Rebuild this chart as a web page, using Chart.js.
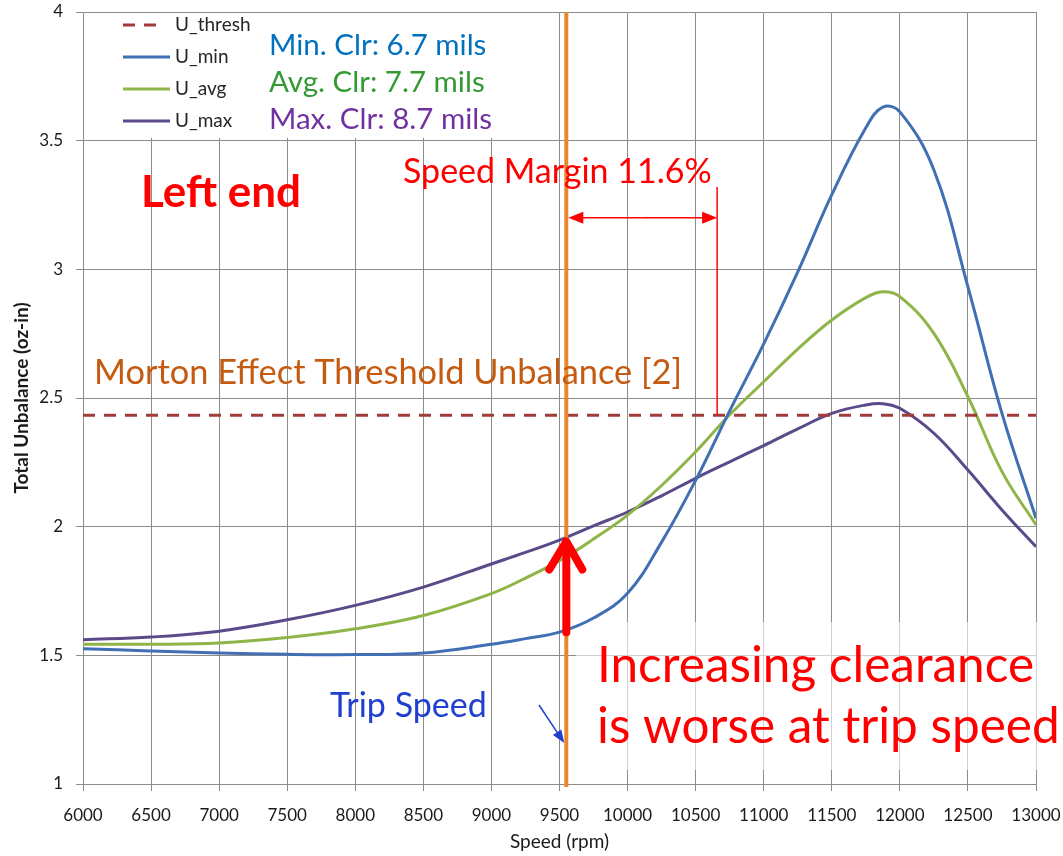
<!DOCTYPE html>
<html>
<head>
<meta charset="utf-8">
<script src="https://cdn.jsdelivr.net/npm/chart.js@4.4.0/dist/chart.umd.min.js"></script>
<style>
  html, body { margin: 0; padding: 0; background: #fff; }
  canvas { display: block; }
</style>
</head>
<body>
<canvas id="grafico" width="1063" height="856"></canvas>
<script>
// Velocidade do rotor (rpm)
const velocidades = [6000, 6500, 7000, 7500, 8000, 8500, 9000, 9250, 9500, 9750, 10000, 10250,
  10500, 10750, 11000, 11250, 11500, 11750, 11875, 12000, 12250, 12500, 12750, 13000];

// Desbalanceamento total (oz-in) para cada folga
const uMin = [1.526, 1.517, 1.509, 1.504, 1.503, 1.509, 1.543, 1.565, 1.59, 1.645, 1.741, 1.94,
  2.18, 2.45, 2.71, 2.99, 3.29, 3.55, 3.63, 3.612, 3.386, 2.932, 2.44, 2.033];
const uAvg = [1.543, 1.543, 1.548, 1.569, 1.603, 1.655, 1.74, 1.80, 1.868, 1.952, 2.045, 2.16,
  2.291, 2.435, 2.563, 2.69, 2.803, 2.89, 2.913, 2.894, 2.751, 2.505, 2.214, 2.007];
const uMax = [1.561, 1.571, 1.594, 1.638, 1.694, 1.765, 1.855, 1.90, 1.948, 2.003, 2.057, 2.12,
  2.188, 2.252, 2.315, 2.38, 2.44, 2.473, 2.478, 2.46, 2.363, 2.22, 2.065, 1.922];

// Limiar do efeito Morton (constante em toda a faixa)
const faixaVel = [6000, 13000];
const uThresh = 2.433;

// Velocidade de trip e margem
const velTrip = 9550;
const margem = 0.116;
const uMinTrip = 1.59;
const uMaxTrip = 1.95;

const nomesSeries = ['U_thresh', 'U_min', 'U_avg', 'U_max'];
const folgas = ['Min. Clr: 6.7 mils', 'Avg. Clr: 7.7 mils', 'Max. Clr: 8.7 mils'];

const pontos = (ys) => velocidades.map((v, i) => ({ x: v, y: ys[i] }));

// Seta simples com ponta cheia
function seta(ctx, x1, y1, x2, y2, comp, larg) {
  const ang = Math.atan2(y2 - y1, x2 - x1);
  ctx.beginPath();
  ctx.moveTo(x1, y1);
  ctx.lineTo(x2 - Math.cos(ang) * comp * 0.8, y2 - Math.sin(ang) * comp * 0.8);
  ctx.stroke();
  ctx.beginPath();
  ctx.moveTo(x2, y2);
  ctx.lineTo(x2 - comp * Math.cos(ang) + larg * Math.sin(ang), y2 - comp * Math.sin(ang) - larg * Math.cos(ang));
  ctx.lineTo(x2 - comp * Math.cos(ang) - larg * Math.sin(ang), y2 - comp * Math.sin(ang) + larg * Math.cos(ang));
  ctx.closePath();
  ctx.fill();
}

const anotacoes = {
  id: 'anotacoes',
  beforeDatasetsDraw(chart) {
    const ctx = chart.ctx;
    const a = chart.chartArea;
    ctx.save();
    // caixas brancas da legenda e das folgas
    ctx.fillStyle = '#fff';
    ctx.fillRect(a.left + 1, a.top + 1, 422, 125);
    // caixa do texto de baixo (semi-transparente)
    ctx.fillStyle = 'rgba(255,255,255,0.6)';
    ctx.fillRect(576, 622, 487, 148);
    ctx.restore();
  },
  afterDatasetsDraw(chart) {
    const ctx = chart.ctx;
    const a = chart.chartArea;
    const xs = chart.scales.x;
    const ys = chart.scales.y;
    const xTrip = xs.getPixelForValue(velTrip);
    const xMargem = xs.getPixelForValue(velTrip * (1 + margem));
    const yLimiar = ys.getPixelForValue(uThresh);

    ctx.save();

    // linha da velocidade de trip
    ctx.strokeStyle = '#E8872E';
    ctx.lineWidth = 4;
    ctx.beginPath();
    ctx.moveTo(xTrip, a.top);
    ctx.lineTo(xTrip, a.bottom + 3);
    ctx.stroke();

    // margem de velocidade
    ctx.strokeStyle = '#FF0000';
    ctx.fillStyle = '#FF0000';
    ctx.lineWidth = 1.5;
    ctx.beginPath();
    ctx.moveTo(xMargem, ys.getPixelForValue(3.32));
    ctx.lineTo(xMargem, yLimiar);
    ctx.stroke();
    const yFlecha = ys.getPixelForValue(3.2);
    seta(ctx, (xTrip + xMargem) / 2, yFlecha, xTrip + 2, yFlecha, 15, 6);
    seta(ctx, (xTrip + xMargem) / 2, yFlecha, xMargem, yFlecha, 15, 6);

    // seta grossa vermelha entre U_min e U_max na trip
    const yBase = ys.getPixelForValue(uMinTrip);
    const yTopo = ys.getPixelForValue(uMaxTrip);
    ctx.lineWidth = 8;
    ctx.lineCap = 'round';
    ctx.lineJoin = 'round';
    ctx.beginPath();
    ctx.moveTo(xTrip, yBase);
    ctx.lineTo(xTrip, yTopo + 3);
    ctx.stroke();
    ctx.beginPath();
    ctx.moveTo(xTrip - 17, yTopo + 30);
    ctx.lineTo(xTrip, yTopo + 2);
    ctx.lineTo(xTrip + 16, yTopo + 30);
    ctx.stroke();
    ctx.lineCap = 'butt';

    // indicador azul da trip
    ctx.strokeStyle = '#1F3FCF';
    ctx.fillStyle = '#1F3FCF';
    ctx.lineWidth = 1.5;
    seta(ctx, 539, 705, xTrip - 2, 743, 13, 5);

    // textos
    ctx.textBaseline = 'alphabetic';
    ctx.textAlign = 'left';
    const coresFolga = ['#0070C0', '#339A33', '#7030A0'];
    ctx.font = '29.5px Lato';
    folgas.forEach((t, i) => {
      ctx.fillStyle = coresFolga[i];
      ctx.fillText(t, 269, 55 + i * 37);
    });

    ctx.fillStyle = '#FF0000';
    ctx.font = 'bold 44px Lato';
    ctx.fillText('Left end', 141, 207);
    ctx.font = '34px Lato';
    ctx.fillText('Speed Margin 11.6%', 403, 183);
    ctx.font = '49.5px Lato';
    ctx.fillText('Increasing clearance', 597, 682);
    ctx.fillText('is worse at trip speed', 597, 743);

    ctx.fillStyle = '#C55A11';
    ctx.font = '34.4px Lato';
    ctx.fillText('Morton Effect Threshold Unbalance [2]', 94, 384);

    ctx.fillStyle = '#1F3FCF';
    ctx.font = '34px Lato';
    ctx.fillText('Trip Speed', 330, 717);

    // legenda (cortada pela caixa das folgas)
    ctx.beginPath();
    ctx.rect(a.left, a.top, 250 - a.left, 130);
    ctx.clip();
    ctx.font = '19px Lato';
    ctx.textBaseline = 'middle';
    chart.data.datasets.forEach((ds, i) => {
      const y = 25 + i * 32;
      ctx.strokeStyle = ds.borderColor;
      ctx.lineWidth = 3;
      ctx.setLineDash(ds.borderDash || []);
      ctx.beginPath();
      ctx.moveTo(123, y);
      ctx.lineTo(i === 0 ? 165 : 170, y);
      ctx.stroke();
      ctx.setLineDash([]);
      ctx.fillStyle = '#262626';
      ctx.fillText(ds.label, 175, y);
    });

    ctx.restore();
  }
};

const contexto = document.getElementById('grafico').getContext('2d');
const grafico = new Chart(contexto, {
  type: 'line',
  data: {
    datasets: [
      {
        label: nomesSeries[0],
        data: faixaVel.map(v => ({ x: v, y: uThresh })),
        borderColor: '#A33A3A',
        borderDash: [12, 9],
        borderWidth: 3,
        pointRadius: 0,
        tension: 0
      },
      {
        label: nomesSeries[1],
        data: pontos(uMin),
        borderColor: '#416FB4',
        borderWidth: 3,
        pointRadius: 0,
        tension: 0.4
      },
      {
        label: nomesSeries[2],
        data: pontos(uAvg),
        borderColor: '#8FB548',
        borderWidth: 3,
        pointRadius: 0,
        tension: 0.4
      },
      {
        label: nomesSeries[3],
        data: pontos(uMax),
        borderColor: '#5B4A8A',
        borderWidth: 3,
        pointRadius: 0,
        tension: 0.4
      }
    ]
  },
  options: {
    responsive: false,
    animation: false,
    devicePixelRatio: 1,
    layout: { padding: { top: 12, right: 27, left: 0, bottom: 0 } },
    plugins: {
      legend: { display: false },
      tooltip: { enabled: false }
    },
    scales: {
      x: {
        type: 'linear',
        min: 6000,
        max: 13000,
        afterFit: (s) => { s.height = 72; s.paddingLeft = 0; s.paddingRight = 0; },
        ticks: {
          stepSize: 500,
          padding: 14,
          maxRotation: 0,
          autoSkip: false,
          color: '#1a1a1a',
          font: { family: 'Lato', size: 17 },
          callback: (v) => String(v)
        },
        grid: { color: '#8c8c8c', tickLength: 7, tickColor: '#8c8c8c' },
        border: { color: '#8c8c8c' },
        title: {
          display: true,
          text: 'Speed (rpm)',
          color: '#1a1a1a',
          font: { family: 'Lato', size: 19 },
          padding: { top: 0, bottom: 3 }
        }
      },
      y: {
        min: 1,
        max: 4,
        afterFit: (s) => { s.width = 83; s.paddingTop = 0; s.paddingBottom = 0; },
        ticks: {
          stepSize: 0.5,
          padding: 13,
          color: '#1a1a1a',
          font: { family: 'Lato', size: 17 },
          callback: (v) => String(v)
        },
        grid: { color: '#8c8c8c', tickLength: 7, tickColor: '#8c8c8c' },
        border: { color: '#8c8c8c' },
        title: {
          display: true,
          text: 'Total Unbalance (oz-in)',
          color: '#1a1a1a',
          font: { family: 'Lato', size: 19, weight: 'bold' },
          padding: { top: 10, bottom: 0 }
        }
      }
    }
  },
  plugins: [anotacoes]
});
</script>
</body>
</html>
